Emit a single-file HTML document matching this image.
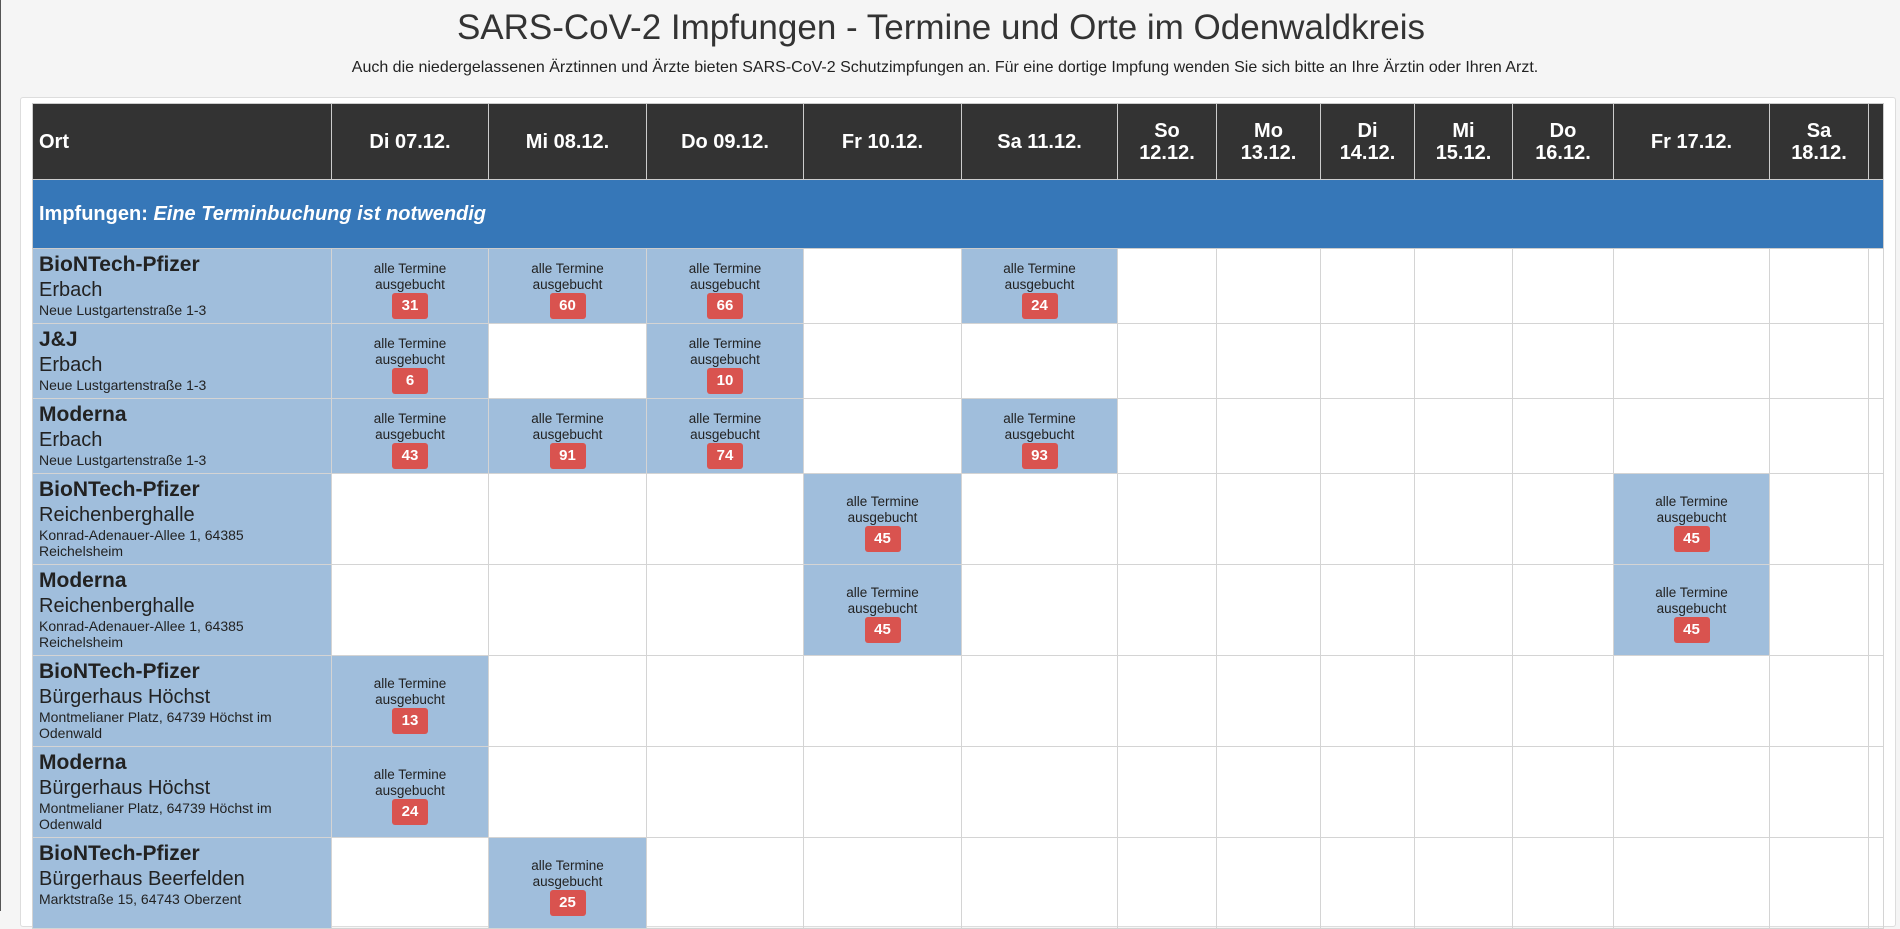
<!DOCTYPE html>
<html><head><meta charset="utf-8">
<style>
html,body{margin:0;padding:0;}
body{width:1900px;height:911px;overflow:hidden;background:#f5f5f5;font-family:"Liberation Sans",Arial,sans-serif;color:#222;position:relative;border-left:1px solid #555;box-sizing:border-box;}
h1{position:absolute;left:-10px;width:1900px;top:6px;margin:0;text-align:center;font-weight:normal;font-size:35px;line-height:44px;color:#333;}
.sub{position:absolute;left:-6px;width:1900px;top:58px;text-align:center;font-size:16px;line-height:20px;color:#222;}
.panel{position:absolute;left:19px;top:97px;width:1876px;height:830px;background:#fff;border:1px solid #ddd;border-radius:3px;box-sizing:border-box;}
table{position:absolute;left:31px;top:103px;border-collapse:collapse;table-layout:fixed;width:1851px;}
td,th{border:1px solid #d4d4d4;padding:0;}
thead th{background:#333;color:#fff;font-weight:bold;font-size:20px;line-height:22px;text-align:center;height:75px;border-color:#ccc;}
thead th.ort{text-align:left;padding-left:6px;}
.band td{background:#3677b8;color:#fff;font-weight:bold;font-size:20px;height:68px;padding-left:6px;border-color:#ccc;}
.band em{font-style:italic;}
td.loc{background:#a0bedc;vertical-align:top;padding:2px 6px 0 6px;}
.t{font-weight:bold;font-size:21px;line-height:28px;}
.p{font-size:20px;line-height:23px;}
.a{font-size:14px;line-height:16px;}
td.c{text-align:center;vertical-align:middle;font-size:13.5px;line-height:16px;padding-top:7px;}
td.f{background:#a0bedc;}
.b{display:inline-block;background:#d9534f;color:#fff;font-weight:bold;font-size:15px;line-height:26px;width:36px;height:26px;border-radius:3px;}
tr.r1{height:75px;} tr.r2{height:91px;}
</style></head><body>
<h1>SARS-CoV-2 Impfungen - Termine und Orte im Odenwaldkreis</h1>
<div class="sub">Auch die niedergelassenen Ärztinnen und Ärzte bieten SARS-CoV-2 Schutzimpfungen an. Für eine dortige Impfung wenden Sie sich bitte an Ihre Ärztin oder Ihren Arzt.</div>
<div class="panel"></div>
<table>
<colgroup><col style="width:299px"><col style="width:157px"><col style="width:158px"><col style="width:157px"><col style="width:158px"><col style="width:156px"><col style="width:99px"><col style="width:104px"><col style="width:94px"><col style="width:98px"><col style="width:101px"><col style="width:156px"><col style="width:99px"><col style="width:15px"></colgroup>
<thead><tr><th class="ort">Ort</th><th>Di 07.12.</th><th>Mi 08.12.</th><th>Do 09.12.</th><th>Fr 10.12.</th><th>Sa 11.12.</th><th>So<br>12.12.</th><th>Mo<br>13.12.</th><th>Di<br>14.12.</th><th>Mi<br>15.12.</th><th>Do<br>16.12.</th><th>Fr 17.12.</th><th>Sa<br>18.12.</th><th></th></tr></thead>
<tbody>
<tr class="band"><td colspan="14">Impfungen: <em>Eine Terminbuchung ist notwendig</em></td></tr>
<tr class="r1"><td class="loc"><div class="t">BioNTech-Pfizer</div><div class="p">Erbach</div><div class="a">Neue Lustgartenstraße 1-3</div></td>
<td class="c f">alle Termine<br>ausgebucht<br><span class="b">31</span></td><td class="c f">alle Termine<br>ausgebucht<br><span class="b">60</span></td><td class="c f">alle Termine<br>ausgebucht<br><span class="b">66</span></td><td></td><td class="c f">alle Termine<br>ausgebucht<br><span class="b">24</span></td><td></td><td></td><td></td><td></td><td></td><td></td><td></td><td></td></tr>
<tr class="r1"><td class="loc"><div class="t">J&amp;J</div><div class="p">Erbach</div><div class="a">Neue Lustgartenstraße 1-3</div></td>
<td class="c f">alle Termine<br>ausgebucht<br><span class="b">6</span></td><td></td><td class="c f">alle Termine<br>ausgebucht<br><span class="b">10</span></td><td></td><td></td><td></td><td></td><td></td><td></td><td></td><td></td><td></td><td></td></tr>
<tr class="r1"><td class="loc"><div class="t">Moderna</div><div class="p">Erbach</div><div class="a">Neue Lustgartenstraße 1-3</div></td>
<td class="c f">alle Termine<br>ausgebucht<br><span class="b">43</span></td><td class="c f">alle Termine<br>ausgebucht<br><span class="b">91</span></td><td class="c f">alle Termine<br>ausgebucht<br><span class="b">74</span></td><td></td><td class="c f">alle Termine<br>ausgebucht<br><span class="b">93</span></td><td></td><td></td><td></td><td></td><td></td><td></td><td></td><td></td></tr>
<tr class="r2"><td class="loc"><div class="t">BioNTech-Pfizer</div><div class="p">Reichenberghalle</div><div class="a">Konrad-Adenauer-Allee 1, 64385<br>Reichelsheim</div></td>
<td></td><td></td><td></td><td class="c f">alle Termine<br>ausgebucht<br><span class="b">45</span></td><td></td><td></td><td></td><td></td><td></td><td></td><td class="c f">alle Termine<br>ausgebucht<br><span class="b">45</span></td><td></td><td></td></tr>
<tr class="r2"><td class="loc"><div class="t">Moderna</div><div class="p">Reichenberghalle</div><div class="a">Konrad-Adenauer-Allee 1, 64385<br>Reichelsheim</div></td>
<td></td><td></td><td></td><td class="c f">alle Termine<br>ausgebucht<br><span class="b">45</span></td><td></td><td></td><td></td><td></td><td></td><td></td><td class="c f">alle Termine<br>ausgebucht<br><span class="b">45</span></td><td></td><td></td></tr>
<tr class="r2"><td class="loc"><div class="t">BioNTech-Pfizer</div><div class="p">Bürgerhaus Höchst</div><div class="a">Montmelianer Platz, 64739 Höchst im<br>Odenwald</div></td>
<td class="c f">alle Termine<br>ausgebucht<br><span class="b">13</span></td><td></td><td></td><td></td><td></td><td></td><td></td><td></td><td></td><td></td><td></td><td></td><td></td></tr>
<tr class="r2"><td class="loc"><div class="t">Moderna</div><div class="p">Bürgerhaus Höchst</div><div class="a">Montmelianer Platz, 64739 Höchst im<br>Odenwald</div></td>
<td class="c f">alle Termine<br>ausgebucht<br><span class="b">24</span></td><td></td><td></td><td></td><td></td><td></td><td></td><td></td><td></td><td></td><td></td><td></td><td></td></tr>
<tr class="r2"><td class="loc"><div class="t">BioNTech-Pfizer</div><div class="p">Bürgerhaus Beerfelden</div><div class="a">Marktstraße 15, 64743 Oberzent<br>&nbsp;</div></td>
<td></td><td class="c f">alle Termine<br>ausgebucht<br><span class="b">25</span></td><td></td><td></td><td></td><td></td><td></td><td></td><td></td><td></td><td></td><td></td><td></td></tr>
</tbody></table>
</body></html>
